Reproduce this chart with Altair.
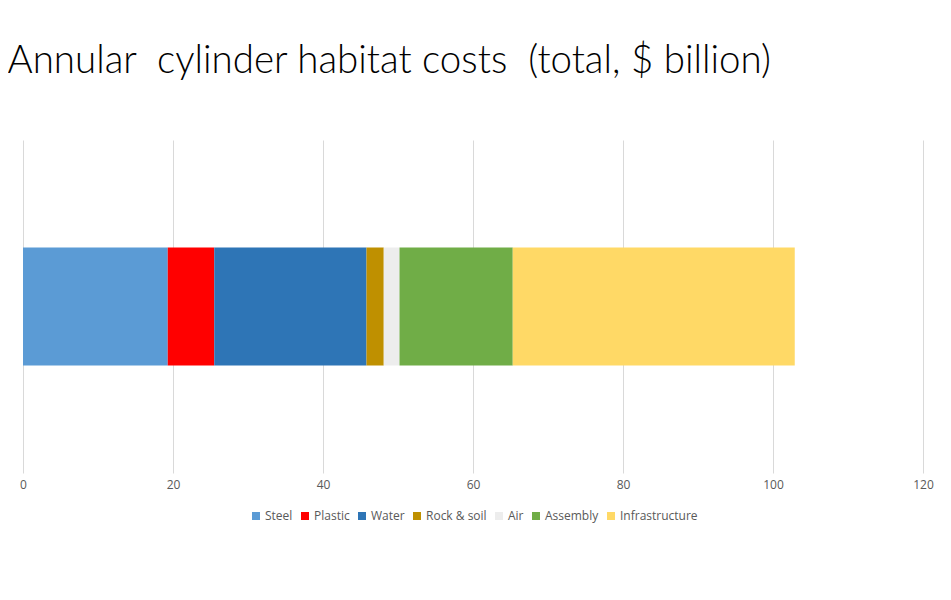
import altair as alt
import pandas as pd

# habitat cost breakdown, $ billion
components = ["Steel", "Plastic", "Water", "Rock & soil", "Air", "Assembly", "Infrastructure"]
costs = [19.3, 6.2, 20.3, 2.3, 2.1, 15.1, 37.6]
colors = ["#5B9BD5", "#FF0000", "#2E75B6", "#BF9000", "#EDEDED", "#70AD47", "#FFD966"]

df = pd.DataFrame({
    "component": components,
    "cost": costs,
    "order": list(range(len(components))),
    "habitat": ["Annular cylinder"] * len(components),
})

title = "Annular\u00a0 cylinder habitat costs\u00a0 (total, $ billion)"

chart = alt.Chart(df).mark_bar().encode(
    x=alt.X("cost:Q", stack="zero",
            scale=alt.Scale(domain=[0, 120], nice=False),
            axis=alt.Axis(title=None, values=[0, 20, 40, 60, 80, 100, 120], format="d",
                          domain=False, ticks=False, labelPadding=6, labelFlush=False,
                          gridColor="#D9D9D9", labelColor="#595959",
                          labelFontSize=12, labelFont="Open Sans")),
    y=alt.Y("habitat:N", axis=None,
            scale=alt.Scale(paddingInner=0, paddingOuter=0.91)),
    color=alt.Color("component:N",
                    scale=alt.Scale(domain=components, range=colors),
                    legend=alt.Legend(title=None, orient="none", direction="horizontal",
                                      legendX=227, legendY=370,
                                      symbolType="square", symbolSize=64,
                                      symbolStrokeWidth=0, labelFontSize=12,
                                      labelFont="Open Sans", labelColor="#595959",
                                      labelOffset=3, columnPadding=6)),
    order=alt.Order("order:Q"),
).properties(
    width=900, height=333,
    autosize=alt.AutoSizeParams(type="none"),
    padding={"left": 15, "top": 132, "right": 12, "bottom": 110},
    title=alt.TitleParams(title, anchor="start", dx=-12, offset=59,
                          font="Lato", fontWeight=300, fontSize=38.5, color="#000000"),
).configure_view(stroke=None)

chart.save("out.html", embed_options={"renderer": "svg", "actions": False})
